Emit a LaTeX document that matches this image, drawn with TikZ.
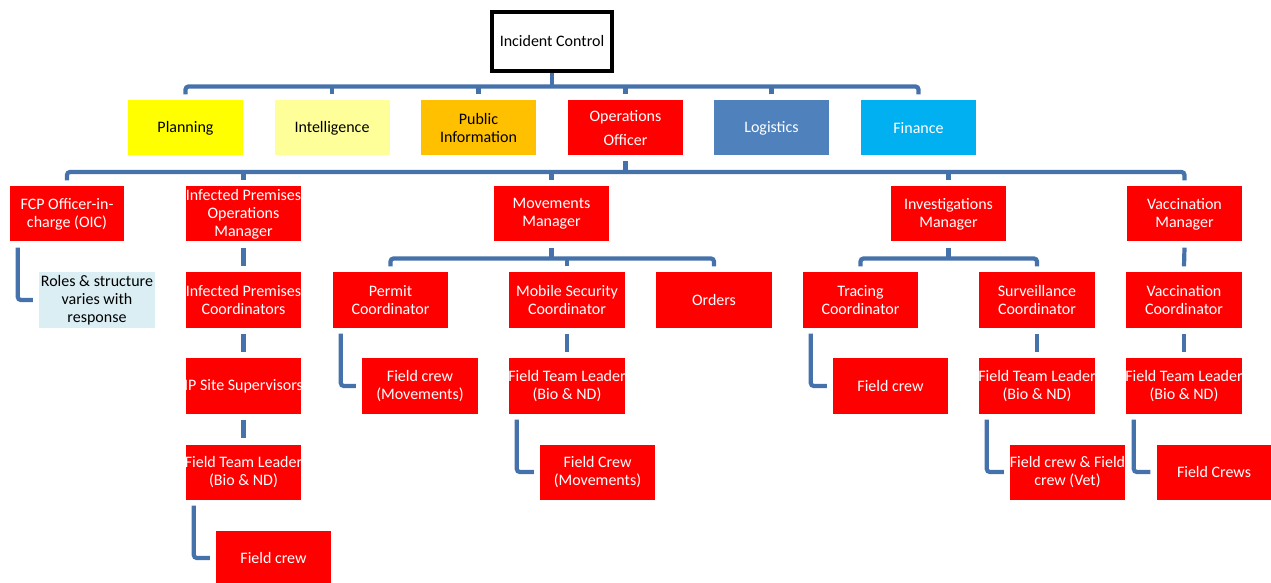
\documentclass[tikz,border=0pt]{standalone}
\usepackage{fontspec}
\setmainfont{Carlito}
\begin{document}
\definecolor{linkblue}{HTML}{4672AB}
\definecolor{opsred}{HTML}{FF0000}
\definecolor{planyellow}{HTML}{FFFF00}
\definecolor{intelyellow}{HTML}{FFFF99}
\definecolor{puborange}{HTML}{FFC000}
\definecolor{logblue}{HTML}{4F81BD}
\definecolor{finblue}{HTML}{00B0F0}
\definecolor{notebg}{HTML}{DAEEF3}
% a line that is wider than its box stays centred and spills over both edges
\newcommand{\wide}[1]{\makebox[0pt]{#1}}
\begin{tikzpicture}[x=1bp, y=-1bp,
  box/.style={minimum width=115bp, minimum height=55bp, inner sep=0pt,
    align=center, font=\fontsize{16bp}{18bp}\selectfont},
  redbox/.style={box, fill=opsred, text=white},
  conn/.style={draw=linkblue, line width=4.2bp},
  elbow/.style={conn, rounded corners=3bp}]
\useasboundingbox (0,0) rectangle (1271,583);
\clip (0,0) rectangle (1271,583);

% top of the command structure
\node[box, draw=black, line width=4bp, fill=white, minimum width=120bp,
  minimum height=59bp] (ic) at (552,41.5) {Incident Control};

% command staff and sections
\node[box, fill=planyellow] (plan) at (185.5,128) {Planning};
\node[box, fill=intelyellow] (intel) at (332,128) {Intelligence};
\node[box, fill=puborange] (pub) at (478.5,128) {Public\\Information};
\node[redbox] (ops) at (625.5,128) {Operations\\[6bp]Officer};
\node[box, fill=logblue, text=white] (log) at (771.5,128) {Logistics};
\node[box, fill=finblue, text=white] (fin) at (918.5,128) {Finance};

% operations managers
\node[redbox, minimum width=114bp] (fcp) at (67,214) {FCP Officer-in-\\charge (OIC)};
\node[redbox] (ipm) at (243.5,214) {\wide{Infected Premises}\\Operations\\Manager};
\node[redbox] (mov) at (551.5,214) {Movements\\Manager};
\node[redbox] (inv) at (948.5,214) {Investigations\\Manager};
\node[redbox] (vac) at (1184.5,214) {Vaccination\\Manager};

% coordinators
\node[box, fill=notebg, minimum width=116bp] (roles) at (97,300) {Roles \& structure\\varies with\\response};
\node[redbox] (ipc) at (243.5,300) {\wide{Infected Premises}\\Coordinators};
\node[redbox] (permit) at (390.5,300) {Permit\\Coordinator};
\node[redbox, minimum width=116bp] (msc) at (567,300) {Mobile Security\\Coordinator};
\node[redbox, minimum width=116bp] (orders) at (714,300) {Orders};
\node[redbox] (tracing) at (860.5,300) {Tracing\\Coordinator};
\node[redbox, minimum width=116bp] (surv) at (1037,300) {Surveillance\\Coordinator};
\node[redbox, minimum width=116bp] (vacc) at (1184,300) {Vaccination\\Coordinator};

% supervisors and team leaders
\node[redbox] (ips) at (243.5,386) {\wide{IP Site Supervisors}};
\node[redbox, minimum width=116bp] (fcm) at (420,386) {Field crew\\(Movements)};
\node[redbox, minimum width=116bp] (ftl2) at (567,386) {\wide{Field Team Leader}\\(Bio \& ND)};
\node[redbox] (fct) at (890.5,386) {Field crew};
\node[redbox, minimum width=116bp] (ftl3) at (1037,386) {\wide{Field Team Leader}\\(Bio \& ND)};
\node[redbox, minimum width=116bp] (ftl4) at (1184,386) {\wide{Field Team Leader}\\(Bio \& ND)};

% field crews
\node[redbox] (ftl1) at (243.5,472) {\wide{Field Team Leader}\\(Bio \& ND)};
\node[redbox] (fcm2) at (597.5,472) {Field Crew\\(Movements)};
\node[redbox] (fcv) at (1067.5,472) {\wide{Field crew \& Field}\\crew (Vet)};
\node[redbox] (fcs) at (1214,472) {Field Crews};
\node[redbox] (fc1) at (273.5,558) {Field crew};

% incident control to sections
\coordinate (b1) at (552,86.5);
\draw[conn] (ic.south) -- (b1);
\draw[elbow] ([yshift=6bp]plan.north) |- (b1) -| ([yshift=6bp]fin.north);
\foreach \n in {intel,pub,ops,log}
  \draw[conn] ([yshift=6bp]\n.north) -- (\n.north |- b1);

% operations officer to managers
\coordinate (b2) at (625.5,172);
\draw[conn] ([yshift=-5bp]ops.south) -- (b2);
\draw[elbow] ([yshift=6bp]fcp.north) |- (b2) -| ([yshift=6bp]vac.north);
\foreach \n in {ipm,mov,inv}
  \draw[conn] ([yshift=6bp]\n.north) -- (\n.north |- b2);

% movements manager to coordinators
\coordinate (b3) at (551.5,258.5);
\draw[conn] ([yshift=-6bp]mov.south) -- (b3);
\draw[elbow] ([yshift=6bp]permit.north) |- (b3) -| ([yshift=6bp]orders.north);
\draw[conn] ([yshift=6bp]msc.north) -- (msc.north |- b3);

% investigations manager to coordinators
\coordinate (b4) at (948.5,258.5);
\draw[conn] ([yshift=-6bp]inv.south) -- (b4);
\draw[elbow] ([yshift=6bp]tracing.north) |- (b4) -| ([yshift=6bp]surv.north);

% straight links down a column
\foreach \a/\b in {vac/vacc,ipm/ipc,ipc/ips,ips/ftl1,msc/ftl2,surv/ftl3,vacc/ftl4}
  \draw[conn] ([yshift=-6bp]\a.south) -- ([yshift=6bp]\b.north);

% offset children joined by an elbow
\foreach \a/\b in {fcp/roles,ftl1/fc1,permit/fcm,ftl2/fcm2,tracing/fct,ftl3/fcv,ftl4/fcs}
  \draw[elbow] ([xshift=8bp,yshift=-6bp]\a.south west) |- ([xshift=-6bp]\b.west);
\end{tikzpicture}
\end{document}
